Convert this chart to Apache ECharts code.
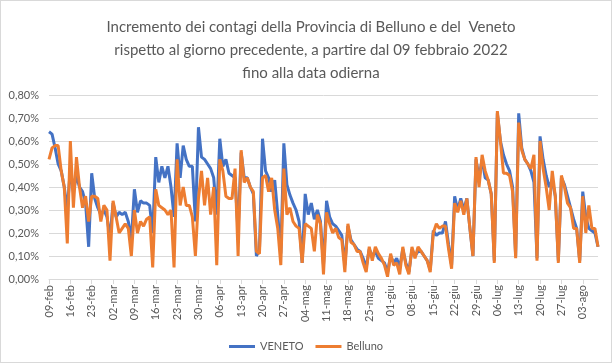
<!DOCTYPE html>
<html><head><meta charset="utf-8">
<script src="https://cdn.jsdelivr.net/npm/echarts@6/dist/echarts.min.js"></script>
<style>
html,body{margin:0;padding:0;background:#fff;}
#c{width:610px;height:361px;border:1px solid #d9d9d9;}
</style></head>
<body><div id="c"></div>
<script>
const titleLines = ['Incremento dei contagi della Provincia di Belluno e del  Veneto','rispetto al giorno precedente, a partire dal 09 febbraio 2022','fino alla data odierna'];
const monthNames = ['gen','feb','mar','apr','mag','giu','lug','ago','set','ott','nov','dic'];
const startDay = {y:2022, m:1, d:9};
const dayCount = 181;
const yTicks = [0,0.1,0.2,0.3,0.4,0.5,0.6,0.7,0.8];
const seriesNames = ['VENETO','Belluno'];
const veneto = [
0.64,0.63,0.57,0.50,0.47,0.40,0.30,0.48,0.38,0.45,0.40,0.38,0.33,0.14,
0.46,0.35,0.31,0.28,0.30,0.27,0.18,0.33,0.27,0.29,0.28,0.29,0.25,0.17,
0.39,0.29,0.34,0.33,0.33,0.32,0.20,0.53,0.42,0.49,0.44,0.49,0.40,0.27,
0.59,0.44,0.58,0.52,0.49,0.49,0.25,0.66,0.53,0.52,0.50,0.48,0.44,0.28,
0.61,0.49,0.52,0.46,0.45,0.44,0.20,0.55,0.44,0.44,0.40,0.37,0.10,0.125,
0.61,0.47,0.44,0.38,0.43,0.28,0.11,0.59,0.41,0.365,0.33,0.30,0.25,0.07,
0.37,0.28,0.33,0.26,0.30,0.25,0.06,0.34,0.27,0.24,0.23,0.21,0.19,0.06,
0.23,0.17,0.15,0.13,0.12,0.09,0.05,0.13,0.10,0.12,0.09,0.08,0.07,0.03,
0.10,0.07,0.09,0.05,0.13,0.07,0.03,0.13,0.10,0.12,0.12,0.10,0.08,0.04,
0.21,0.19,0.20,0.20,0.25,0.15,0.06,0.36,0.30,0.35,0.30,0.35,0.22,0.10,
0.52,0.44,0.52,0.44,0.43,0.37,0.08,0.72,0.60,0.54,0.50,0.47,0.40,0.10,
0.72,0.57,0.52,0.50,0.47,0.42,0.09,0.62,0.52,0.45,0.40,0.43,0.36,0.08,
0.44,0.41,0.36,0.31,0.26,0.22,0.08,0.38,0.27,0.22,0.21,0.20,0.14
];
const belluno = [
0.52,0.57,0.58,0.58,0.47,0.40,0.155,0.60,0.31,0.53,0.40,0.31,0.36,0.25,
0.36,0.36,0.35,0.25,0.32,0.30,0.08,0.34,0.27,0.20,0.22,0.24,0.22,0.10,
0.30,0.20,0.25,0.23,0.26,0.27,0.05,0.39,0.32,0.31,0.30,0.28,0.30,0.05,
0.52,0.32,0.40,0.32,0.32,0.27,0.10,0.35,0.47,0.32,0.44,0.28,0.40,0.06,
0.52,0.47,0.36,0.35,0.35,0.48,0.10,0.56,0.42,0.44,0.40,0.38,0.12,0.11,
0.44,0.45,0.38,0.44,0.30,0.22,0.06,0.48,0.28,0.31,0.25,0.23,0.22,0.07,
0.24,0.23,0.22,0.12,0.28,0.24,0.02,0.29,0.24,0.20,0.22,0.18,0.17,0.03,
0.24,0.16,0.15,0.12,0.12,0.07,0.03,0.14,0.08,0.14,0.11,0.09,0.06,0.01,
0.11,0.06,0.07,0.02,0.14,0.06,0.02,0.14,0.09,0.14,0.12,0.10,0.08,0.03,
0.20,0.24,0.22,0.23,0.23,0.13,0.045,0.33,0.29,0.34,0.28,0.35,0.22,0.10,
0.53,0.40,0.54,0.47,0.43,0.37,0.07,0.73,0.60,0.46,0.46,0.45,0.38,0.09,
0.68,0.56,0.52,0.50,0.48,0.54,0.08,0.60,0.48,0.40,0.30,0.47,0.36,0.07,
0.45,0.40,0.33,0.31,0.22,0.22,0.07,0.36,0.20,0.32,0.22,0.22,0.14
];
const colors = ['#4472C4','#ED7D31'];

const categories = [];
for (let i = 0; i < dayCount; i++) {
  const dt = new Date(Date.UTC(startDay.y, startDay.m, startDay.d + i));
  const dd = String(dt.getUTCDate()).padStart(2,'0');
  categories.push(dd + '-' + monthNames[dt.getUTCMonth()]);
}
const fmtPct = v => v.toFixed(2).replace('.', ',') + '%';
const font = 'Lato, "Liberation Sans", sans-serif';

const chart = echarts.init(document.getElementById('c'), null, {renderer:'canvas'});
chart.setOption({
  animation:false,
  title:{
    text: titleLines.join('\n'),
    left:305, top:10, textAlign:'center',
    textStyle:{fontFamily:font, fontSize:15, fontWeight:'normal', color:'#595959', lineHeight:23, align:'center'}
  },
  grid:{left:48, right:13, top:94, bottom:83},
  legend:{
    bottom:5, left:'center',
    itemWidth:26, itemHeight:3, itemGap:12,
    icon:'rect',
    textStyle:{fontFamily:font, fontSize:11, color:'#595959'},
    data: seriesNames
  },
  xAxis:{
    type:'category', data:categories, boundaryGap:false,
    axisLine:{lineStyle:{color:'#d9d9d9'}},
    axisTick:{show:true, interval:6, length:5, lineStyle:{color:'#d9d9d9'}},
    axisLabel:{interval:6, rotate:90, fontFamily:font, fontSize:11, color:'#595959', margin:6}
  },
  yAxis:{
    type:'value', min:yTicks[0], max:yTicks[yTicks.length-1], interval:0.1,
    axisLine:{show:false}, axisTick:{show:false},
    splitLine:{lineStyle:{color:'#d9d9d9'}},
    axisLabel:{formatter:fmtPct, fontFamily:font, fontSize:11, color:'#595959', margin:10}
  },
  series:[
    {name:seriesNames[0], type:'line', data:veneto, symbol:'none', lineStyle:{width:3, color:colors[0]}, itemStyle:{color:colors[0]}},
    {name:seriesNames[1], type:'line', data:belluno, symbol:'none', lineStyle:{width:3, color:colors[1]}, itemStyle:{color:colors[1]}}
  ]
});
</script></body></html>
